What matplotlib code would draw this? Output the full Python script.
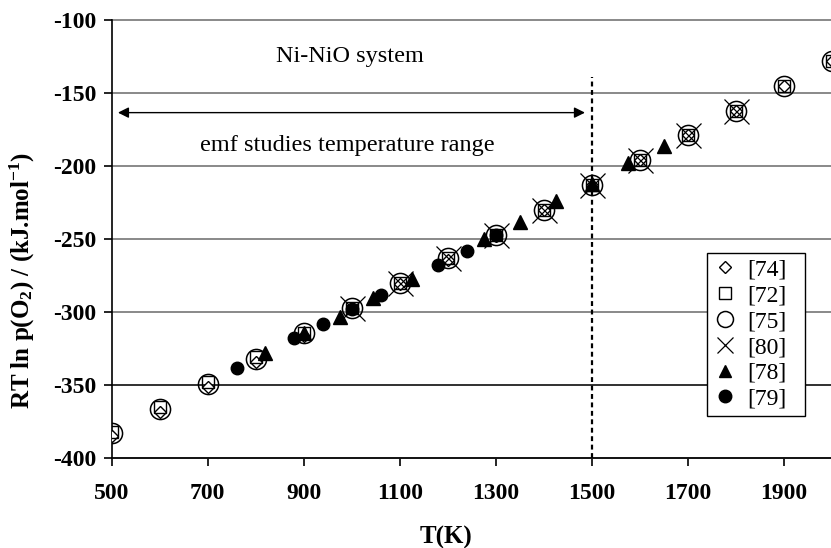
import matplotlib
matplotlib.use('Agg')
import matplotlib.pyplot as plt
from matplotlib.lines import Line2D

plt.rcParams['font.family'] = ['Liberation Serif', 'DejaVu Serif']
plt.rcParams['axes.unicode_minus'] = False
plt.rcParams['mathtext.fontset'] = 'custom'
plt.rcParams['mathtext.rm'] = 'Liberation Serif:bold'
plt.rcParams['mathtext.it'] = 'Liberation Serif:bold'
plt.rcParams['mathtext.bf'] = 'Liberation Serif:bold'
plt.rcParams['mathtext.default'] = 'rm'

# ---- data ----
T_full = [500, 600, 700, 800, 900, 1000, 1100, 1200, 1300, 1400, 1500, 1600, 1700, 1800, 1900, 2000]
ref75 = [-383, -366, -349, -332, -314, -297, -280, -263, -247, -230, -213, -196, -179, -162, -145, -128]
ref74 = [-385, -368, -351, -334, -316, -298, -281, -264, -248, -230, -213, -196, -179, -162, -145, -128]
ref72 = [-382, -365, -348, -331, -314, -297, -280, -263, -247, -230, -213, -196, -179, -162, -145, -128]
T80 = [1000, 1100, 1200, 1300, 1400, 1500, 1600, 1700, 1800]
ref80 = [-297, -280, -263, -247, -230, -213, -196, -179, -162]
T78 = [820, 900, 975, 1045, 1125, 1275, 1350, 1425, 1500, 1575, 1650]
ref78 = [-328, -314, -303, -290, -277, -250, -238, -224, -212, -198, -186]
T79 = [760, 880, 940, 1000, 1060, 1180, 1240, 1300]
ref79 = [-338, -318, -308, -298, -288, -268, -258, -247]

labels = ['[74]', '[72]', '[75]', '[80]', '[78]', '[79]']
x_ticks = [500, 700, 900, 1100, 1300, 1500, 1700, 1900]
y_ticks = [-400, -350, -300, -250, -200, -150, -100]

fig = plt.figure(figsize=(8.31, 5.48), dpi=100)
ax = fig.add_axes([111.7 / 831, 1 - 458.3 / 548, 720 / 831, 438.3 / 548])
ax.set_xlim(500, 2000)
ax.set_ylim(-400, -100)
ax.set_xticks(x_ticks)
ax.set_yticks(y_ticks)
for s in ['top', 'right']:
    ax.spines[s].set_visible(False)
for s in ['left', 'bottom']:
    ax.spines[s].set_linewidth(1.2)
ax.yaxis.grid(True, color='#808080', lw=1.3)
ax.set_axisbelow(True)
for tv, gl in zip(y_ticks, ax.get_ygridlines()):
    gl.set_clip_on(False)
    if tv == -350:
        gl.set_color('#202020')
ax.tick_params(direction='out', length=6, width=1.2, labelsize=17)
ax.tick_params(axis='x', pad=12)
ax.tick_params(axis='y', pad=5)
for lab in ax.get_xticklabels() + ax.get_yticklabels():
    lab.set_fontweight('bold')

styles = [
    dict(marker='D', ms=6.5, mfc='white', mec='black', mew=1.0),
    dict(marker='s', ms=9, mfc='none', mec='black', mew=1.0),
    dict(marker='o', ms=14.5, mfc='none', mec='black', mew=1.1),
    dict(marker='x', ms=18, mec='black', mew=0.9),
    dict(marker='^', ms=9.5, mfc='black', mec='black'),
    dict(marker='o', ms=9, mfc='black', mec='black'),
]
leg_sizes = [6, 8, 11.5, 12, 9, 9]

series = [(T_full, ref74), (T_full, ref72), (T_full, ref75), (T80, ref80), (T78, ref78), (T79, ref79)]
for (tx, ty), st, lab, z in zip(series, styles, labels, [3, 3, 3, 3, 4, 4]):
    ax.plot(tx, ty, ls='none', zorder=z, **st)

# dashed vertical line at 1500 K
ax.plot([1500, 1500], [-400, -139], color='black', lw=1.6, ls=(0, (2.2, 1.6)), zorder=2, clip_on=False)

# double arrow
ax.annotate('', xy=(513, -163.4), xytext=(1486, -163.4),
            arrowprops=dict(arrowstyle='<|-|>', color='black', lw=1.0,
                            mutation_scale=16, shrinkA=0, shrinkB=0))

ax.text(996, -125.3, 'Ni-NiO system', fontsize=17.5, ha='center', va='center')
ax.text(991, -185.6, 'emf studies temperature range', fontsize=17.5, ha='center', va='center')

ax.set_xlabel('T(K)', fontsize=18, fontweight='bold')
ax.xaxis.set_label_coords(0.464, -0.155)
ax.set_ylabel(r'RT ln p(O$_2$) / (kJ.mol$^{-1}$)', fontsize=18, fontweight='bold')
ax.yaxis.set_label_coords(-0.104, 0.406)

handles = []
for st, ms, lab in zip(styles, leg_sizes, labels):
    d = dict(st)
    d['ms'] = ms
    handles.append(Line2D([], [], ls='none', label=lab, **d))

leg = ax.legend(handles=handles, loc='upper left', mode='expand',
                bbox_to_anchor=(707 / 831, 1 - 253 / 548 - 0.01, 98 / 831, 0.01),
                bbox_transform=fig.transFigure, borderaxespad=0, fontsize=17,
                frameon=True, fancybox=False, edgecolor='black', framealpha=1,
                handlelength=1.0, handletextpad=0.45, labelspacing=0.18,
                borderpad=0.26, numpoints=1)
leg.get_frame().set_linewidth(1.0)

fig.savefig('out.png', dpi=100)
